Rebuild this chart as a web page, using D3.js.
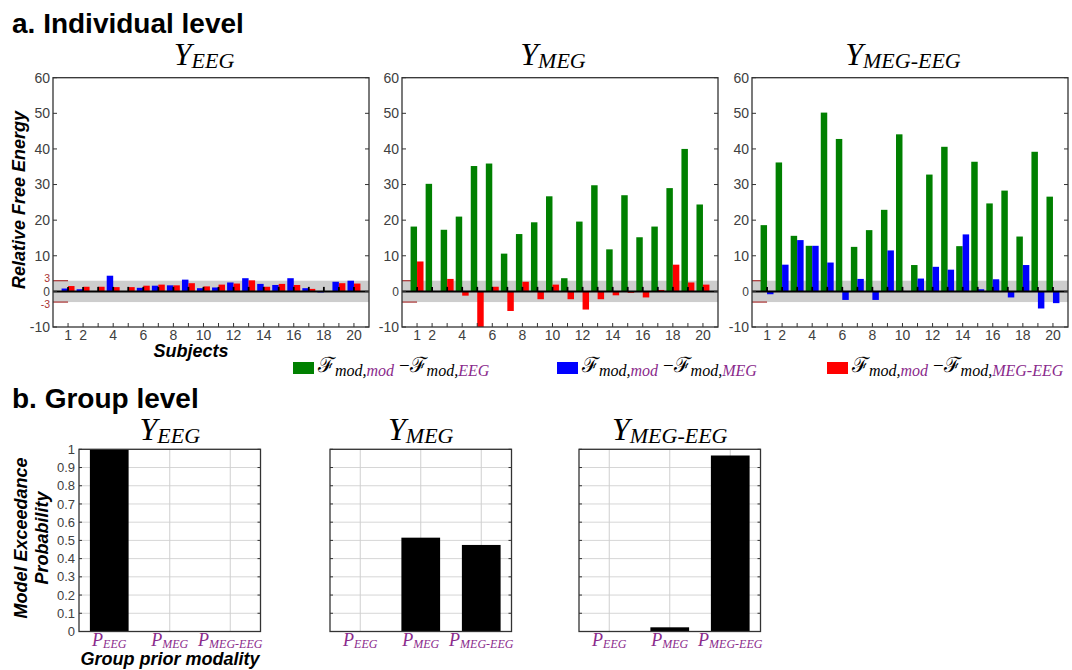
<!DOCTYPE html>
<html>
<head>
<meta charset="utf-8">
<script src="https://cdn.jsdelivr.net/npm/d3@7"></script>
<style>
  body { margin: 0; background: #fff; }
  text { font-family: "Liberation Sans", Arial, sans-serif; }
  .math { font-family: "Liberation Serif", "Times New Roman", serif; font-style: italic; }
</style>
</head>
<body>
<div id="chart"></div>
<script>
"use strict";

/* ── Data: individual level (relative free energy per subject) ── */
const SUBJECTS            = [1, 2, 3, 4, 5, 6, 7, 8, 9, 10, 11, 12, 13, 14, 15, 16, 17, 18, 19, 20];
const SUBJECT_TICK_LABELS = [1, 2, 4, 6, 8, 10, 12, 14, 16, 18, 20];
const FE_TICKS            = [-10, 0, 10, 20, 30, 40, 50, 60];
const FE_THRESHOLDS       = [3, -3];

const EEG_BLUE = [0.8, 0.6, 0, 4.4, 0, 1.0, 1.6, 1.7, 3.3, 0.9, 1.1, 2.5, 3.7, 2.1, 1.8, 3.7, 0.9, -0.3, 2.7, 3.0];
const EEG_RED  = [1.5, 1.3, 1.3, 1.2, 1.2, 1.6, 1.9, 1.7, 2.3, 1.4, 1.9, 2.2, 3.1, 1.3, 2.1, 1.8, 0.7, 0, 2.3, 2.2];

const MEG_GREEN = [18.2, 30.2, 17.3, 21.0, 35.2, 35.9, 10.6, 16.1, 19.4, 26.7, 3.7, 19.6, 29.8, 11.8, 27.0, 15.2, 18.2, 29.0, 40.0, 24.4];
const MEG_RED   = [8.4, 0, 3.5, -1.2, -10.5, 1.3, -5.5, 2.7, -2.2, 1.9, -2.2, -5.1, -2.2, -1.1, -0.4, -1.7, 0.4, 7.5, 2.5, 1.9];

const MEGEEG_GREEN = [18.6, 36.2, 15.6, 12.8, 50.2, 42.8, 12.5, 17.2, 22.9, 44.1, 7.4, 32.8, 40.6, 12.7, 36.4, 24.7, 28.3, 15.4, 39.2, 26.6];
const MEGEEG_BLUE  = [-0.8, 7.5, 14.4, 12.8, 8.1, -2.4, 3.5, -2.4, 11.5, 0, 3.6, 6.9, 6.1, 16.0, 0.6, 3.4, -1.7, 7.4, -4.8, -3.3];

/* ── Data: group level (exceedance probability per prior) ── */
const PRIORS       = ["EEG", "MEG", "MEG-EEG"];
const EXC_TICKS    = [0, 0.1, 0.2, 0.3, 0.4, 0.5, 0.6, 0.7, 0.8, 0.9, 1];
const EXC_EEG      = [1, 0, 0];
const EXC_MEG      = [0, 0.515, 0.475];
const EXC_MEGEEG   = [0, 0.023, 0.966];

/* ── Colours ── */
const GREEN   = "#008000";
const BLUE    = "#0000ff";
const RED     = "#ff0000";
const PURPLE  = "#8a2a8c";
const DARKRED = "#a83232";
const AXIS    = "#333";
const LABEL   = "#404040";

const svg = d3.select("#chart").append("svg")
  .attr("width", 1072).attr("height", 670)
  .style("background", "#fff");

const defs = svg.append("defs");

/* Y + subscript title, serif italic */
function mathTitle(g, x, y, base, sub, baseSize, subSize, anchor, color) {
  const t = g.append("text")
    .attr("class", "math")
    .attr("x", x).attr("y", y)
    .attr("text-anchor", anchor)
    .attr("fill", color || "#000");
  t.append("tspan").attr("font-size", baseSize).text(base);
  t.append("tspan").attr("font-size", subSize).attr("dy", baseSize * 0.1).text(sub);
  return t;
}

/* ── Headings ── */
svg.append("text").attr("x", 12).attr("y", 33)
  .attr("font-size", 28).attr("font-weight", "bold").text("a. Individual level");
svg.append("text").attr("x", 12).attr("y", 408)
  .attr("font-size", 28).attr("font-weight", "bold").text("b. Group level");

/* ── Top panels ── */
const TOP = { y0: 77.7, y1: 327, w: 316 };
const topPanels = [
  { x0: 53,  sub: "EEG",     left: EEG_BLUE,     leftColor: BLUE,  right: EEG_RED,     rightColor: RED,  labels: true },
  { x0: 402, sub: "MEG",     left: MEG_GREEN,    leftColor: GREEN, right: MEG_RED,     rightColor: RED,  labels: false },
  { x0: 752, sub: "MEG-EEG", left: MEGEEG_GREEN, leftColor: GREEN, right: MEGEEG_BLUE, rightColor: BLUE, labels: false }
];

topPanels.forEach((p, pi) => {
  const x = d3.scaleLinear().domain([0, 21]).range([p.x0, p.x0 + TOP.w]);
  const y = d3.scaleLinear().domain([-10, 60]).range([TOP.y1, TOP.y0]);
  const g = svg.append("g");
  const bw = 0.43;

  const clipId = "clip-top-" + pi;
  defs.append("clipPath").attr("id", clipId)
    .append("rect").attr("x", x(0)).attr("y", y(60))
    .attr("width", x(21) - x(0)).attr("height", y(-10) - y(60));

  const plot = g.append("g").attr("clip-path", `url(#${clipId})`);

  /* grey ±3 band */
  plot.append("rect")
    .attr("x", x(0)).attr("width", x(21) - x(0))
    .attr("y", y(3)).attr("height", y(-3) - y(3))
    .attr("fill", "#cdcdcd");

  /* red threshold markers */
  plot.selectAll(".thr").data(FE_THRESHOLDS).join("line")
    .attr("x1", x(0)).attr("x2", x(1))
    .attr("y1", d => y(d)).attr("y2", d => y(d))
    .attr("stroke", DARKRED).attr("stroke-width", 1.2);

  /* bars */
  const rows = SUBJECTS.map((s, i) => ({ s, l: p.left[i], r: p.right[i] }));
  plot.selectAll(".bl").data(rows).join("rect")
    .attr("x", d => x(d.s - bw)).attr("width", x(bw) - x(0))
    .attr("y", d => y(Math.max(d.l, 0)))
    .attr("height", d => Math.abs(y(d.l) - y(0)))
    .attr("fill", p.leftColor);
  plot.selectAll(".br").data(rows).join("rect")
    .attr("x", d => x(d.s)).attr("width", x(bw) - x(0))
    .attr("y", d => y(Math.max(d.r, 0)))
    .attr("height", d => Math.abs(y(d.r) - y(0)))
    .attr("fill", p.rightColor);

  /* zero line + small ticks */
  plot.append("line")
    .attr("x1", x(0)).attr("x2", x(21))
    .attr("y1", y(0)).attr("y2", y(0))
    .attr("stroke", "#000").attr("stroke-width", 2);
  plot.selectAll(".zt").data(SUBJECTS).join("line")
    .attr("x1", d => x(d)).attr("x2", d => x(d))
    .attr("y1", y(0)).attr("y2", y(0) - 4.5)
    .attr("stroke", "#000").attr("stroke-width", 1.8);

  /* frame */
  g.append("rect")
    .attr("x", x(0)).attr("y", y(60))
    .attr("width", x(21) - x(0)).attr("height", y(-10) - y(60))
    .attr("fill", "none").attr("stroke", AXIS).attr("stroke-width", 1.3);

  /* inward ticks */
  g.selectAll(".ytl").data(FE_TICKS).join("line")
    .attr("x1", x(0)).attr("x2", x(0) + 4)
    .attr("y1", d => y(d)).attr("y2", d => y(d))
    .attr("stroke", AXIS);
  g.selectAll(".ytr").data(FE_TICKS).join("line")
    .attr("x1", x(21)).attr("x2", x(21) - 4)
    .attr("y1", d => y(d)).attr("y2", d => y(d))
    .attr("stroke", AXIS);
  g.selectAll(".xt").data(SUBJECTS).join("line")
    .attr("x1", d => x(d)).attr("x2", d => x(d))
    .attr("y1", y(-10)).attr("y2", y(-10) - 4)
    .attr("stroke", AXIS);

  /* tick labels (0 a touch smaller so it clears the ±3 labels) */
  g.selectAll(".yl").data(FE_TICKS).join("text")
    .attr("x", x(0) - 3).attr("y", d => y(d))
    .attr("dy", "0.35em").attr("text-anchor", "end")
    .attr("font-size", d => d === 0 ? 12 : 14).attr("fill", LABEL)
    .text(d => d);
  if (p.labels) {
    g.selectAll(".thl").data(FE_THRESHOLDS).join("text")
      .attr("x", x(0) - 3).attr("y", d => y(d) + (d > 0 ? -2.5 : 2.5))
      .attr("dy", "0.35em").attr("text-anchor", "end")
      .attr("font-size", 10.5).attr("fill", DARKRED)
      .text(d => d);
  }
  g.selectAll(".xl").data(SUBJECT_TICK_LABELS).join("text")
    .attr("x", d => x(d)).attr("y", 340)
    .attr("text-anchor", "middle")
    .attr("font-size", 14).attr("fill", LABEL)
    .text(d => d);

  mathTitle(g, (x(0) + x(21)) / 2 - 7, 65, "Y", p.sub, 32, 22, "middle");
});

svg.append("text").attr("x", 191).attr("y", 357)
  .attr("text-anchor", "middle").attr("font-size", 18)
  .attr("font-weight", "bold").attr("font-style", "italic")
  .text("Subjects");
svg.append("text").attr("transform", "translate(25,200) rotate(-90)")
  .attr("text-anchor", "middle").attr("font-size", 18)
  .attr("font-weight", "bold").attr("font-style", "italic")
  .text("Relative Free Energy");

/* ── Legend ── */
const legendItems = [
  { x: 293, color: GREEN, sub: "EEG" },
  { x: 557, color: BLUE,  sub: "MEG" },
  { x: 827, color: RED,   sub: "MEG-EEG" }
];
legendItems.forEach(it => {
  svg.append("rect").attr("x", it.x).attr("y", 362)
    .attr("width", 21).attr("height", 12).attr("fill", it.color);
  const t = svg.append("text").attr("class", "math")
    .attr("x", it.x + 25).attr("y", 372);
  t.append("tspan").attr("font-size", 21).attr("font-family", "DejaVu Serif").attr("font-style", "normal").text("ℱ");
  t.append("tspan").attr("font-size", 16).attr("dy", 4).text("mod,");
  t.append("tspan").attr("font-size", 16).attr("fill", PURPLE).text("mod");
  t.append("tspan").attr("font-size", 19).attr("dy", -4).attr("font-style", "normal").text(" −");
  t.append("tspan").attr("font-size", 21).attr("font-family", "DejaVu Serif").attr("font-style", "normal").text("ℱ");
  t.append("tspan").attr("font-size", 16).attr("dy", 4).text("mod,");
  t.append("tspan").attr("font-size", 16).attr("fill", PURPLE).text(it.sub);
});

/* ── Bottom panels ── */
const BOT = { y0: 449.3, y1: 631.5, w: 181.5 };
const botPanels = [
  { x0: 79,  sub: "EEG",     values: EXC_EEG,    labels: true },
  { x0: 330, sub: "MEG",     values: EXC_MEG,    labels: false },
  { x0: 579, sub: "MEG-EEG", values: EXC_MEGEEG, labels: false }
];

botPanels.forEach(p => {
  const x = d3.scaleLinear().domain([0.5, 3.5]).range([p.x0, p.x0 + BOT.w]);
  const y = d3.scaleLinear().domain([0, 1]).range([BOT.y1, BOT.y0]);
  const g = svg.append("g");
  const bw = 0.64;

  /* grid */
  g.selectAll(".gh").data(EXC_TICKS).join("line")
    .attr("x1", x(0.5)).attr("x2", x(3.5))
    .attr("y1", d => y(d)).attr("y2", d => y(d))
    .attr("stroke", "#d6d6d6");
  g.selectAll(".gv").data(PRIORS).join("line")
    .attr("x1", (d, i) => x(i + 1)).attr("x2", (d, i) => x(i + 1))
    .attr("y1", y(0)).attr("y2", y(1))
    .attr("stroke", "#cfcfcf");

  /* bars */
  g.selectAll(".bar").data(p.values).join("rect")
    .attr("x", (d, i) => x(i + 1 - bw / 2)).attr("width", x(bw) - x(0))
    .attr("y", d => y(d)).attr("height", d => y(0) - y(d))
    .attr("fill", "#000");

  /* frame + ticks */
  g.append("rect")
    .attr("x", x(0.5)).attr("y", y(1))
    .attr("width", x(3.5) - x(0.5)).attr("height", y(0) - y(1))
    .attr("fill", "none").attr("stroke", AXIS).attr("stroke-width", 1.3);
  g.selectAll(".tl").data(EXC_TICKS).join("line")
    .attr("x1", x(0.5)).attr("x2", x(0.5) + 3)
    .attr("y1", d => y(d)).attr("y2", d => y(d))
    .attr("stroke", AXIS);
  g.selectAll(".tr").data(EXC_TICKS).join("line")
    .attr("x1", x(3.5)).attr("x2", x(3.5) - 3)
    .attr("y1", d => y(d)).attr("y2", d => y(d))
    .attr("stroke", AXIS);

  if (p.labels) {
    g.selectAll(".yl").data(EXC_TICKS).join("text")
      .attr("x", x(0.5) - 4).attr("y", d => y(d))
      .attr("dy", "0.35em").attr("text-anchor", "end")
      .attr("font-size", 13).attr("fill", LABEL)
      .text(d => d);
  }

  /* prior labels */
  PRIORS.forEach((pr, i) => {
    mathTitle(g, x(i + 1), 646, "P", pr, 18, 12, "middle", PURPLE);
  });

  mathTitle(g, (x(0.5) + x(3.5)) / 2, 440, "Y", p.sub, 32, 22, "middle");
});

svg.append("text").attr("x", 170).attr("y", 665)
  .attr("text-anchor", "middle").attr("font-size", 18)
  .attr("font-weight", "bold").attr("font-style", "italic")
  .text("Group prior modality");

const excLabel = svg.append("text")
  .attr("transform", "translate(27,538) rotate(-90)")
  .attr("text-anchor", "middle").attr("font-size", 18)
  .attr("font-weight", "bold").attr("font-style", "italic");
excLabel.append("tspan").attr("x", 0).attr("dy", 0).text("Model Exceedance");
excLabel.append("tspan").attr("x", 0).attr("dy", 21).text("Probability");
</script>
</body>
</html>
